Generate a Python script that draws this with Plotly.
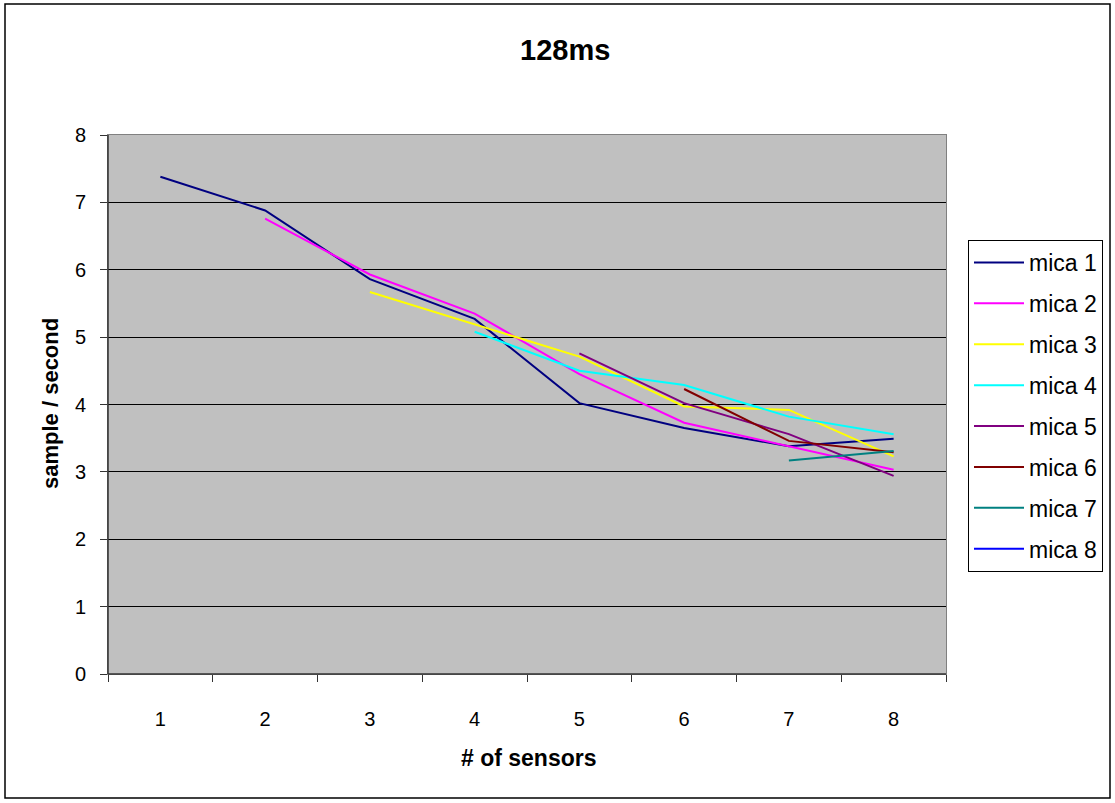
import plotly.graph_objects as go

categories = ["1", "2", "3", "4", "5", "6", "7", "8"]
series_names = ["mica 1", "mica 2", "mica 3", "mica 4", "mica 5", "mica 6", "mica 7", "mica 8"]
mica1 = [7.38, 6.88, 5.86, 5.27, 4.02, 3.65, 3.38, 3.49]
mica2 = [None, 6.76, 5.93, 5.35, 4.45, 3.73, 3.38, 3.03]
mica3 = [None, None, 5.67, 5.19, 4.71, 3.97, 3.92, 3.23]
mica4 = [None, None, None, 5.08, 4.50, 4.29, 3.82, 3.56]
mica5 = [None, None, None, None, 4.76, 4.02, 3.56, 2.94]
mica6 = [None, None, None, None, None, 4.23, 3.46, 3.29]
mica7 = [None, None, None, None, None, None, 3.17, 3.31]
mica8 = [None, None, None, None, None, None, None, 3.30]
series_values = [mica1, mica2, mica3, mica4, mica5, mica6, mica7, mica8]
colors = ["#000080", "#FF00FF", "#FFFF00", "#00FFFF", "#800080", "#800000", "#008080", "#0000FF"]
y_ticks = [0, 1, 2, 3, 4, 5, 6, 7, 8]

FONT = "Liberation Sans, Arial, sans-serif"

W, H = 1115, 803
L, R, T, B = 108, 946, 135, 674
pw, ph = R - L, B - T


def px_x(p):
    return (p - L) / pw


def px_y(p):
    return (B - p) / ph


fig = go.Figure()
for name, vals, col in zip(series_names, series_values, colors):
    fig.add_trace(go.Scatter(
        x=categories, y=vals, name=name, mode="lines",
        line=dict(color=col, width=2), legendgroup=name,
        connectgaps=False,
    ))

fig.update_layout(
    width=W, height=H,
    margin=dict(l=L, r=W - R, t=T, b=H - B, pad=0),
    paper_bgcolor="white",
    plot_bgcolor="#C0C0C0",
    font=dict(family=FONT, size=20, color="black"),
    showlegend=True,
    legend=dict(
        x=px_x(968), y=px_y(240), xanchor="left", yanchor="top",
        bgcolor="white", bordercolor="black", borderwidth=1,
        font=dict(family=FONT, size=23, color="black"),
        tracegroupgap=8, itemwidth=50,
    ),
    xaxis=dict(
        type="category", categoryorder="array", categoryarray=categories,
        range=[-0.5, 7.5], tickson="boundaries",
        ticks="outside", ticklen=7, tickcolor="#333333", tickwidth=1,
        showgrid=False, zeroline=False,
        showline=True, linecolor="#808080", linewidth=1, mirror=True,
        ticklabelstandoff=27,
        tickfont=dict(family=FONT, size=20),
    ),
    yaxis=dict(
        range=[0, 8], tickmode="array", tickvals=y_ticks,
        ticks="outside", ticklen=7, tickcolor="#333333", tickwidth=1,
        showgrid=True, gridcolor="black", gridwidth=1, zeroline=False,
        showline=True, linecolor="#808080", linewidth=1, mirror=True,
        ticklabelstandoff=10,
        tickfont=dict(family=FONT, size=20),
    ),
    shapes=[
        dict(type="line", xref="paper", yref="paper", x0=0, x1=0, y0=0, y1=1,
             line=dict(color="#333333", width=1.5), layer="above"),
        dict(type="line", xref="paper", yref="paper", x0=0, x1=1, y0=0, y1=0,
             line=dict(color="#333333", width=1.5), layer="above"),
        dict(type="rect", xref="paper", yref="paper",
             x0=px_x(5), x1=px_x(1110), y0=px_y(4), y1=px_y(798),
             line=dict(color="black", width=1.5), fillcolor="rgba(0,0,0,0)", layer="below"),
    ],
    annotations=[
        dict(text="<b>128ms</b>", xref="paper", yref="paper", x=px_x(565), y=px_y(50),
             xanchor="center", yanchor="middle", showarrow=False,
             font=dict(family=FONT, size=29, color="black")),
        dict(text="<b># of sensors</b>", xref="paper", yref="paper", x=px_x(529), y=px_y(758),
             xanchor="center", yanchor="middle", showarrow=False,
             font=dict(family=FONT, size=23, color="black")),
        dict(text="<b>sample / second</b>", xref="paper", yref="paper", x=px_x(50), y=px_y(404),
             xanchor="center", yanchor="middle", showarrow=False, textangle=-90,
             font=dict(family=FONT, size=22, color="black")),
    ],
)

fig.write_html("out.html")
